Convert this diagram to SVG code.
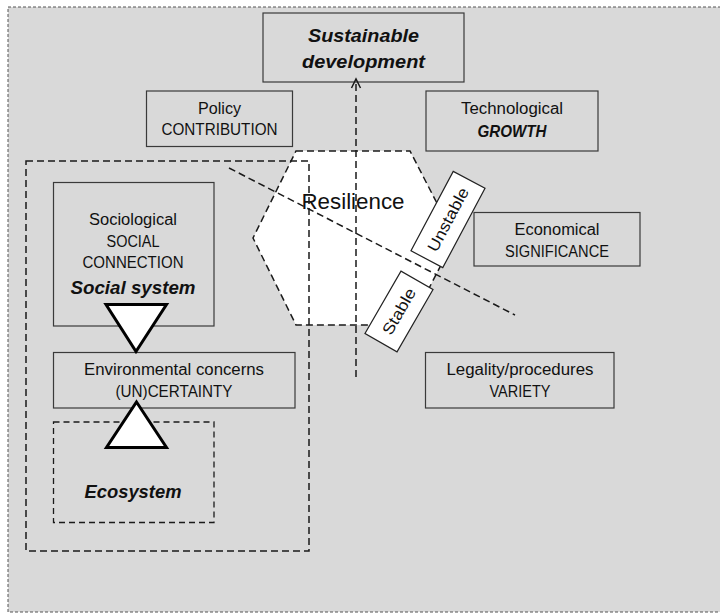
<svg xmlns="http://www.w3.org/2000/svg" width="720" height="614" viewBox="0 0 720 614">
<style>
.box{fill:none;stroke:#3a3a3a;stroke-width:1.2}
.wbox{fill:#ffffff;stroke:#222;stroke-width:1.2}
.dash{fill:none;stroke:#1a1a1a;stroke-width:1.5;stroke-dasharray:7 4}
.t{font-family:"Liberation Sans",Arial,sans-serif;font-size:16px;fill:#111;text-anchor:middle}
.bi{font-family:"Liberation Sans",Arial,sans-serif;font-size:19px;font-weight:bold;font-style:italic;fill:#111;text-anchor:middle}
.tri{fill:#ffffff;stroke:#000;stroke-width:3;stroke-linejoin:miter}
</style>
<defs>
<marker id="chev" markerUnits="userSpaceOnUse" markerWidth="14" markerHeight="14" refX="0" refY="0" orient="auto" overflow="visible">
<path d="M -9 -4.5 L 0 0 L -9 4.5" fill="none" stroke="#1a1a1a" stroke-width="1.5" stroke-dasharray="none"/>
</marker>
</defs>
<rect x="0" y="0" width="720" height="614" fill="#ffffff"/>
<rect id="frame" x="8" y="7" width="730" height="605" fill="#d9d9d9" stroke="#555" stroke-width="1" stroke-dasharray="3 2"/>

<g id="resilience">
<polygon points="296,151 410,151 455,238 410,325 296,325 253,238" fill="#ffffff" class="dash" style="fill:#ffffff"/>
<text x="353" y="209" style="font-family:'Liberation Sans',Arial,sans-serif;font-size:22px;fill:#111;text-anchor:middle" textLength="103" lengthAdjust="spacingAndGlyphs">Resilience</text>
</g>

<g id="social-ecological-system">
<rect x="26" y="161" width="283" height="390" class="dash"/>
</g>

<g id="sustainable-development">
<rect x="263" y="13" width="201" height="69" class="box"/>
<text x="363.5" y="42" class="bi" textLength="111" lengthAdjust="spacingAndGlyphs">Sustainable</text>
<text x="363.5" y="68" class="bi" textLength="123" lengthAdjust="spacingAndGlyphs">development</text>
</g>

<g id="policy">
<rect x="146.5" y="91" width="146" height="55.5" class="box"/>
<text x="219.5" y="114" class="t" textLength="43" lengthAdjust="spacingAndGlyphs">Policy</text>
<text x="219.5" y="135" class="t" textLength="116" lengthAdjust="spacingAndGlyphs">CONTRIBUTION</text>
</g>

<g id="technological">
<rect x="426" y="91" width="172" height="60" class="box"/>
<text x="512" y="114" class="t" textLength="102" lengthAdjust="spacingAndGlyphs">Technological</text>
<text x="512" y="137" class="bi" style="font-size:17px" textLength="69" lengthAdjust="spacingAndGlyphs">GROWTH</text>
</g>

<g id="economical">
<rect x="474" y="212.5" width="166" height="53.5" class="box"/>
<text x="557" y="235" class="t" textLength="85" lengthAdjust="spacingAndGlyphs">Economical</text>
<text x="557" y="257" class="t" textLength="104" lengthAdjust="spacingAndGlyphs">SIGNIFICANCE</text>
</g>

<g id="legality">
<rect x="425.5" y="352.5" width="188.5" height="55.5" class="box"/>
<text x="520" y="375" class="t" textLength="147" lengthAdjust="spacingAndGlyphs">Legality/procedures</text>
<text x="520" y="397" class="t" textLength="61" lengthAdjust="spacingAndGlyphs">VARIETY</text>
</g>

<g id="sociological">
<rect x="53.5" y="182.5" width="160.5" height="143.5" class="box"/>
<text x="133" y="225" class="t" textLength="88" lengthAdjust="spacingAndGlyphs">Sociological</text>
<text x="133" y="246.7" class="t" textLength="53" lengthAdjust="spacingAndGlyphs">SOCIAL</text>
<text x="133" y="268.3" class="t" textLength="101" lengthAdjust="spacingAndGlyphs">CONNECTION</text>
<text x="133" y="294" class="bi" textLength="125" lengthAdjust="spacingAndGlyphs">Social system</text>
</g>

<g id="environmental">
<rect x="53.5" y="352.5" width="241.5" height="55.5" class="box"/>
<text x="174" y="375.3" class="t" textLength="180" lengthAdjust="spacingAndGlyphs">Environmental concerns</text>
<text x="174" y="397" class="t" textLength="117" lengthAdjust="spacingAndGlyphs">(UN)CERTAINTY</text>
</g>

<g id="ecosystem">
<rect x="53.5" y="422" width="160.5" height="100.5" class="dash" style="stroke-width:1.3;stroke-dasharray:6 4"/>
<text x="133" y="498.3" class="bi" textLength="97" lengthAdjust="spacingAndGlyphs">Ecosystem</text>
</g>

<g id="connectors">
<line x1="356" y1="377" x2="356" y2="79" class="dash" marker-end="url(#chev)"/>
<line x1="229" y1="168" x2="515" y2="315" class="dash"/>
<polygon points="106,304.5 166.5,304.5 136,351.5" class="tri"/>
<polygon points="136.5,402 166.5,447.5 106.5,447.5" class="tri"/>
</g>

<g id="unstable" transform="translate(448,219.5) rotate(-62)">
<rect x="-45" y="-18" width="90" height="36" class="wbox"/>
<text x="0" y="5.5" class="t" textLength="70" lengthAdjust="spacingAndGlyphs">Unstable</text>
</g>

<g id="stable" transform="translate(399,311.5) rotate(-60)">
<rect x="-36" y="-18.5" width="72" height="37" class="wbox"/>
<text x="0" y="5.5" class="t" textLength="51" lengthAdjust="spacingAndGlyphs">Stable</text>
</g>
</svg>
